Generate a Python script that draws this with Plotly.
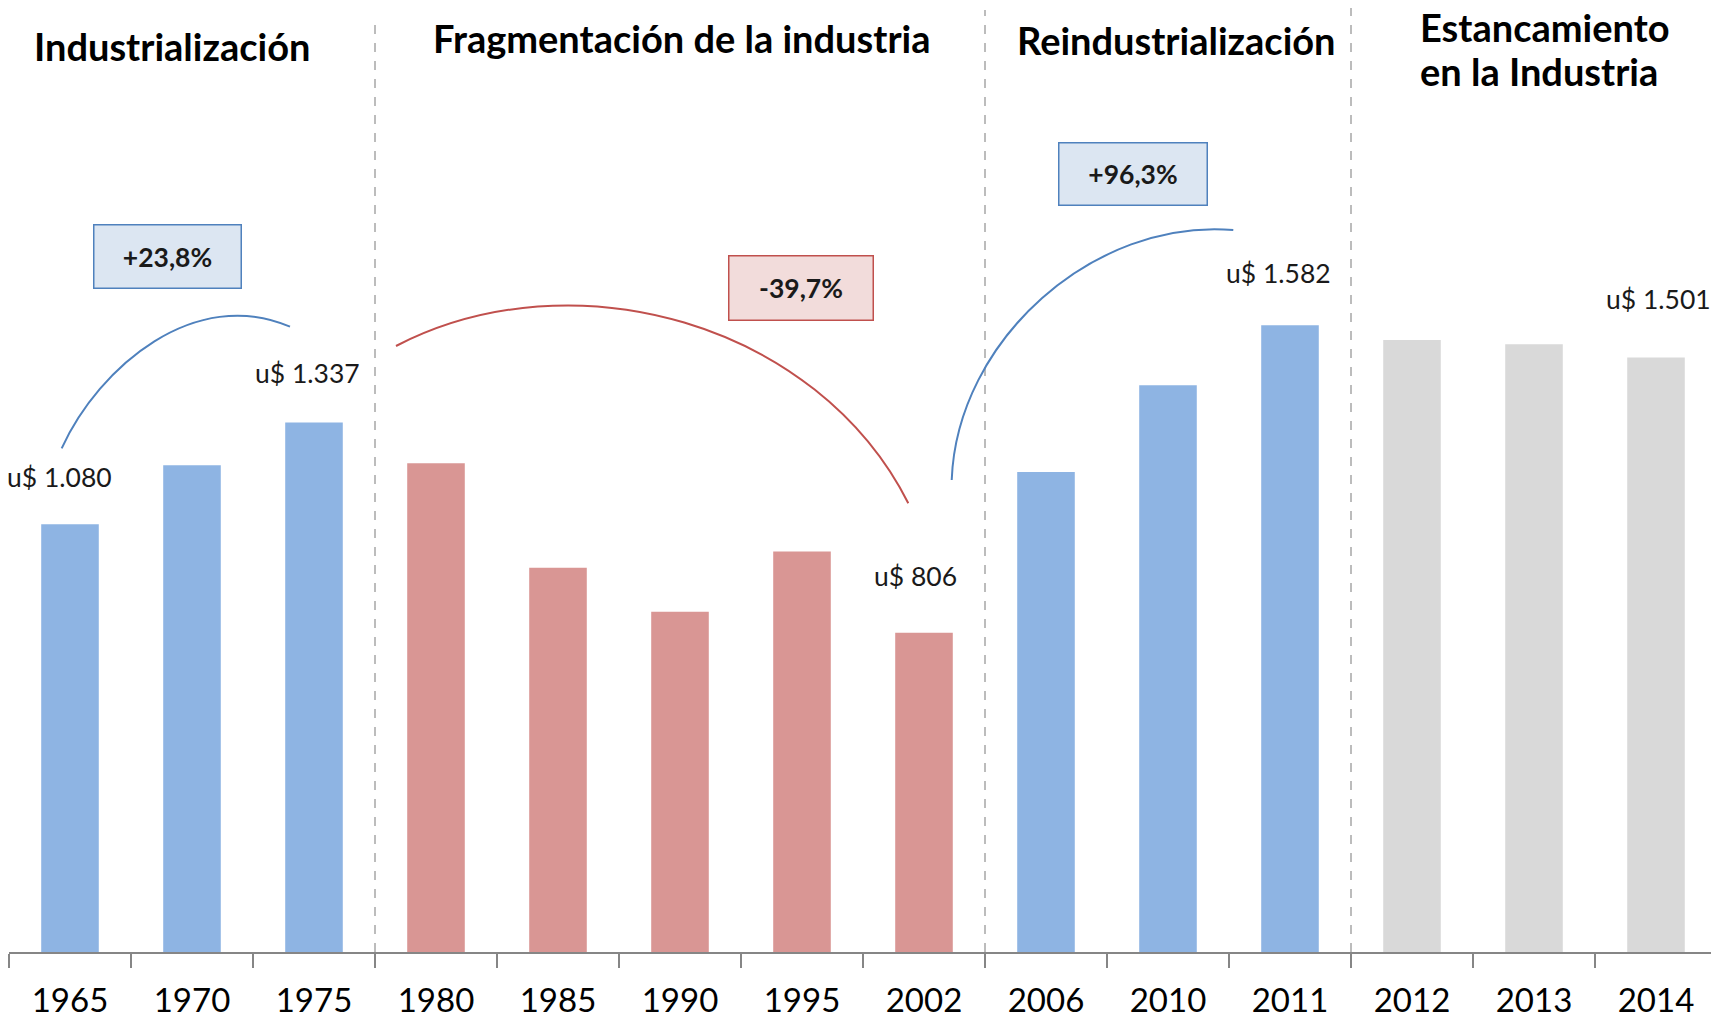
import numpy as np
import plotly.graph_objects as go

# ---------------- data ----------------
years = ["1965", "1970", "1975", "1980", "1985", "1990", "1995",
         "2002", "2006", "2010", "2011", "2012", "2013", "2014"]
values = [1080, 1229, 1337, 1234, 970, 859, 1011,
          806, 1212, 1431, 1582, 1545, 1534, 1501]
phases = ["ind", "ind", "ind", "frag", "frag", "frag", "frag",
          "frag", "reind", "reind", "reind", "est", "est", "est"]
phase_colors = {"ind": "#8EB4E3", "frag": "#D99694", "reind": "#8EB4E3", "est": "#D9D9D9"}
labeled_years = ["1965", "1975", "2002", "2011", "2014"]
changes = ["+23,8%", "-39,7%", "+96,3%"]
phase_titles = ["Industrialización", "Fragmentación de la industria",
                "Reindustrialización", "Estancamiento<br>en la Industria"]

# ---------------- layout geometry (screen pixels) ----------------
W, H = 1719, 1016
OFF = 8                      # page body margin of the html page
PL, PR, PB = 9, 1717, 952    # plot area edges as seen on screen
PT = OFF
PX_PER_UNIT = 1 / 2.5245
YMAX = (PB - PT) / PX_PER_UNIT
FONT = "Lato"


def px(x):
    return (x - PL) / (PR - PL)


def py(y):
    return (PB - y) / (PB - PT)


def bezier_fit(pts):
    P = np.array(pts, float)
    d = np.r_[0, np.cumsum(np.hypot(*np.diff(P, axis=0).T))]
    t = d / d[-1]
    b0, b1, b2, b3 = (1 - t) ** 3, 3 * t * (1 - t) ** 2, 3 * t ** 2 * (1 - t), t ** 3
    R = P - np.outer(b0, P[0]) - np.outer(b3, P[-1])
    C, *_ = np.linalg.lstsq(np.c_[b1, b2], R, rcond=None)
    return [P[0], C[0], C[1], P[-1]]


def arc_path(pts):
    Q = [(px(x), py(y)) for x, y in bezier_fit(pts)]
    return (f"M {Q[0][0]:.5f},{Q[0][1]:.5f} C {Q[1][0]:.5f},{Q[1][1]:.5f} "
            f"{Q[2][0]:.5f},{Q[2][1]:.5f} {Q[3][0]:.5f},{Q[3][1]:.5f}")


fig = go.Figure()
fig.add_trace(go.Bar(
    x=years, y=values,
    marker=dict(color=[phase_colors[p] for p in phases], line=dict(width=0)),
    hoverinfo="x+y",
))

# phase separators (dashed)
sep_idx = [2.5, 7.5, 10.5]
sep_top = [18, 10, 5]
for xi, top in zip(sep_idx, sep_top):
    fig.add_shape(type="line", xref="x", yref="paper", x0=xi, x1=xi,
                  y0=0, y1=py(top), line=dict(color="#A6A6A6", width=1.5, dash="dash"))

# arcs
arc1 = [(61.7, 448.3), (76.7, 420), (106.7, 381.7), (140, 351.7), (190, 323.3), (240, 315.7), (290, 326.7)]
arc2 = [(396, 346), (446.7, 325), (513.3, 309.3), (573.3, 306), (680, 321), (746.7, 345),
        (813.3, 390), (863, 436.7), (908.3, 503.3)]
arc3 = [(951.7, 480), (963.3, 416.7), (983.3, 370), (1030, 310), (1096.7, 260), (1163.3, 235),
        (1213, 228.3), (1233.3, 230)]
for pts, col in [(arc1, "#4F81BD"), (arc2, "#C0504D"), (arc3, "#4F81BD")]:
    fig.add_shape(type="path", xref="paper", yref="paper", path=arc_path(pts),
                  line=dict(color=col, width=2), fillcolor="rgba(0,0,0,0)")

# change boxes
boxes = [
    (167.5, 256.5, 149, 65, "#DCE6F2", "#4F81BD"),
    (801, 288, 146, 66, "#F2DCDB", "#C0504D"),
    (1133, 173.7, 150, 64, "#DCE6F2", "#4F81BD"),
]
for txt, (cx, cy, bw, bh, fill, border) in zip(changes, boxes):
    fig.add_annotation(x=px(cx), y=py(cy), xref="paper", yref="paper",
                       text=f"<b>{txt}</b>", showarrow=False,
                       width=bw - 3, height=bh - 3, bgcolor=fill, bordercolor=border,
                       borderwidth=1.5, borderpad=0,
                       font=dict(family=FONT, size=26.5, color="#1a1a1a"),
                       xanchor="center", yanchor="middle")

# value labels
label_pos = {"1965": (59, 477), "1975": (307.5, 373), "2002": (915, 575.6),
             "2011": (1278, 273), "2014": (1658, 299)}
for yr in labeled_years:
    v = values[years.index(yr)]
    txt = "u$ " + f"{v:,}".replace(",", ".")
    cx, cy = label_pos[yr]
    fig.add_annotation(x=px(cx), y=py(cy), xref="paper", yref="paper", text=txt,
                       showarrow=False, font=dict(family=FONT, size=26.5, color="#1a1a1a"),
                       xanchor="center", yanchor="middle")

# phase titles (multi-line titles are drawn one line per annotation)
title_pos = [[(172, 46, "center")], [(682, 38, "center")], [(1176, 40, "center")],
             [(1418, 27, "left"), (1418, 71, "left")]]
for t, positions in zip(phase_titles, title_pos):
    for line, (tx, ty, al) in zip(t.split("<br>"), positions):
        fig.add_annotation(x=px(tx), y=py(ty), xref="paper", yref="paper",
                           text=f"<b>{line}</b>", showarrow=False, align="left",
                           font=dict(family=FONT, size=38, color="#000000"),
                           xanchor=al, yanchor="middle")

fig.update_layout(
    width=W, height=H,
    margin=dict(l=PL - OFF, r=W - (PR - OFF), t=0, b=H - (PB - OFF)),
    plot_bgcolor="white", paper_bgcolor="white",
    bargap=0.528, showlegend=False,
    xaxis=dict(type="category", tickson="boundaries", ticks="outside", ticklen=14,
               tickwidth=1.5, tickcolor="#868686", showline=True, linecolor="#868686",
               linewidth=2, showgrid=False, ticklabelstandoff=18,
               tickfont=dict(family=FONT, size=33, color="#000000"), range=[-0.5, 13.5]),
    yaxis=dict(range=[0, YMAX], visible=False, showgrid=False, zeroline=False),
)

fig.write_html("out.html")
